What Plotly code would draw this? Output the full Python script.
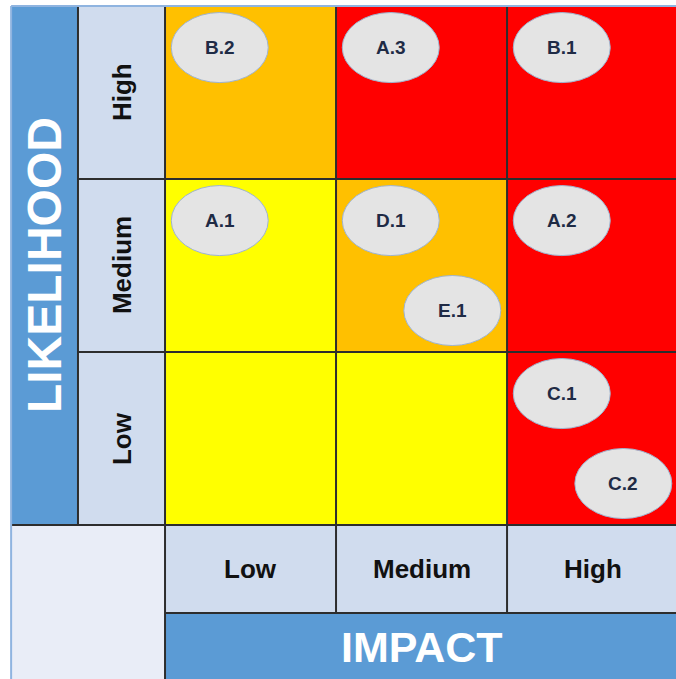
import plotly.graph_objects as go

# ---- data ----
impact_levels = ["Low", "Medium", "High"]
likelihood_levels = ["Low", "Medium", "High"]
# severity per cell: rows = likelihood (Low..High), cols = impact (Low..High)
# 0 = yellow (low), 1 = amber (medium), 2 = red (high)
risk_matrix = [
    [0, 0, 2],
    [0, 1, 2],
    [1, 2, 2],
]
risk_ids = ["B.2", "A.3", "B.1", "A.1", "D.1", "E.1", "A.2", "C.1", "C.2"]
risk_likelihood = ["High", "High", "High", "Medium", "Medium", "Medium", "Medium", "Low", "Low"]
risk_impact = ["Low", "Medium", "High", "Low", "Medium", "Medium", "High", "High", "High"]
x_title = "IMPACT"
y_title = "LIKELIHOOD"

# ---- style / layout ----
W, H = 676, 679
LABEL_W = 0.509      # width of the row-label column (cell units)
TITLE_W = 0.90       # outer extent of title panels (cell units)
DARK = "#2d2d2d"
LABEL_FILL = "#d0dcee"
TITLE_FILL = "#5b9bd5"
BLANK_FILL = "#e9edf7"
OUTER = "#8fb4e0"
FONT = "Liberation Sans, Arial, sans-serif"

n = len(impact_levels)
fig = go.Figure()

# risk matrix cells
fig.add_trace(go.Heatmap(
    x=[i + 0.5 for i in range(n)],
    y=[j + 0.5 for j in range(len(likelihood_levels))],
    z=risk_matrix,
    zmin=0, zmax=2,
    colorscale=[[0, "#ffff00"], [0.5, "#ffc000"], [1, "#ff0000"]],
    showscale=False, hoverinfo="skip",
))

shapes = []
# LIKELIHOOD title panel
shapes.append(dict(type="rect", xref="x", yref="y", x0=-TITLE_W, x1=-LABEL_W, y0=0, y1=n,
                   fillcolor=TITLE_FILL, line=dict(width=0), layer="above"))
# blank bottom-left panel
shapes.append(dict(type="rect", xref="x", yref="y", x0=-TITLE_W, x1=0, y0=-TITLE_W - 0.2, y1=0,
                   fillcolor=BLANK_FILL, line=dict(width=0), layer="above"))
# IMPACT title panel
shapes.append(dict(type="rect", xref="x", yref="y", x0=0, x1=n + 0.1, y0=-TITLE_W - 0.2, y1=-LABEL_W,
                   fillcolor=TITLE_FILL, line=dict(width=0), layer="above"))
# row label cells
for j in range(len(likelihood_levels)):
    shapes.append(dict(type="rect", xref="x", yref="y", x0=-LABEL_W, x1=0, y0=j, y1=j + 1,
                       fillcolor=LABEL_FILL, line=dict(width=0), layer="above"))
# column label cells
for i in range(n):
    shapes.append(dict(type="rect", xref="x", yref="y", x0=i, x1=i + 1, y0=-LABEL_W, y1=0,
                       fillcolor=LABEL_FILL, line=dict(width=0), layer="above"))

def line(x0, y0, x1, y1, color=DARK, width=2):
    shapes.append(dict(type="line", xref="x", yref="y", x0=x0, y0=y0, x1=x1, y1=y1,
                       line=dict(color=color, width=width), layer="above"))

# dark grid lines
line(-LABEL_W, 0, -LABEL_W, n)
line(0, -TITLE_W - 0.2, 0, n)
for i in range(1, n + 1):
    line(i, -LABEL_W, i, n)
line(-TITLE_W, 0, n + 0.1, 0)
for j in range(1, n):
    line(-LABEL_W, j, n + 0.1, j)
line(0, -LABEL_W, n + 0.1, -LABEL_W)
# outer light-blue border
line(-TITLE_W, n, n + 0.1, n, color=OUTER, width=2)
line(-TITLE_W, -TITLE_W - 0.2, -TITLE_W, n, color=OUTER, width=2)

# risk ellipses: first risk in a cell sits top-left, second bottom-right
slots = [(0.32, 0.76), (0.68, 0.24)]
EW, EH = 0.567, 0.405
annotations = []
counts = {}
for rid, lk, im in zip(risk_ids, risk_likelihood, risk_impact):
    ci = impact_levels.index(im)
    rj = likelihood_levels.index(lk)
    k = counts.get((ci, rj), 0)
    counts[(ci, rj)] = k + 1
    sx, sy = slots[k]
    cx, cy = ci + sx, rj + sy
    shapes.append(dict(type="circle", xref="x", yref="y",
                       x0=cx - EW / 2, x1=cx + EW / 2, y0=cy - EH / 2, y1=cy + EH / 2,
                       fillcolor="#e4e4e4", line=dict(color="#9fb4cf", width=1), layer="above"))
    annotations.append(dict(x=cx, y=cy, xref="x", yref="y", text=rid, showarrow=False,
                            font=dict(family=FONT, size=19, color="#1f2b45", weight="bold")))

# axis labels
for j, lab in enumerate(likelihood_levels):
    annotations.append(dict(x=-LABEL_W / 2, y=j + 0.5, xref="x", yref="y", text=lab,
                            showarrow=False, textangle=-90,
                            font=dict(family=FONT, size=26, color="#111111", weight="bold")))
for i, lab in enumerate(impact_levels):
    annotations.append(dict(x=i + 0.5, y=-LABEL_W / 2, xref="x", yref="y", text=lab,
                            showarrow=False,
                            font=dict(family=FONT, size=26, color="#111111", weight="bold")))
annotations.append(dict(x=-(TITLE_W + LABEL_W) / 2, y=n / 2, xref="x", yref="y", text=y_title,
                        showarrow=False, textangle=-90,
                        font=dict(family=FONT, size=48, color="#ffffff", weight="bold")))
annotations.append(dict(x=n / 2, y=-(TITLE_W + LABEL_W) / 2, xref="x", yref="y", text=x_title,
                        showarrow=False,
                        font=dict(family=FONT, size=43, color="#ffffff", weight="bold")))

fig.update_layout(
    width=W, height=H,
    margin=dict(l=0, r=0, t=0, b=0),
    paper_bgcolor="white", plot_bgcolor="white",
    shapes=shapes, annotations=annotations,
    xaxis=dict(range=[-0.965, 2.988], visible=False, fixedrange=True),
    yaxis=dict(range=[-0.890, 3.035], visible=False, fixedrange=True),
    showlegend=False,
)

fig.write_html("out.html", config={"displayModeBar": False})
